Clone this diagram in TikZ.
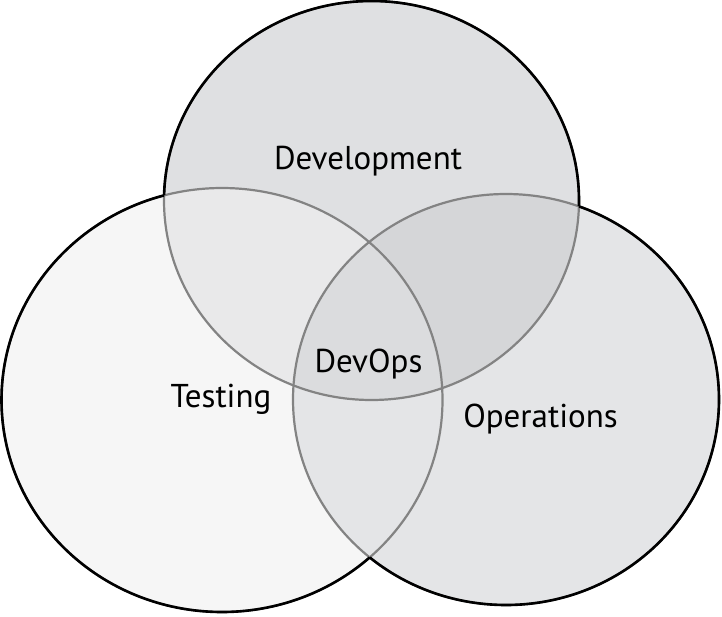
\documentclass[tikz,border=0pt]{standalone}
\usepackage{fontspec}
\setmainfont{PT Sans}
\usetikzlibrary{calc}

\definecolor{tstfill}{HTML}{F6F6F6}
\definecolor{devfill}{HTML}{DFE0E2}
\definecolor{opsfill}{HTML}{E4E5E7}
\definecolor{devtst}{HTML}{E9E9EA}
\definecolor{devops}{HTML}{D5D6D8}
\definecolor{tstops}{HTML}{E4E5E7}
\definecolor{allthree}{HTML}{DBDCDE}
\definecolor{inner}{HTML}{838383}

\tikzset{
  devr/.style={x radius=207.5pt, y radius=199.5pt},
  tstr/.style={x radius=220.5pt, y radius=212pt},
  opsr/.style={x radius=213pt, y radius=205.5pt},
  label/.style={font=\fontsize{33}{38}\selectfont, anchor=base, inner sep=0pt},
  rim/.style={line width=2.6pt, black},
  seam/.style={line width=2.2pt, inner}
}

\begin{document}
\begin{tikzpicture}[x=1pt, y=-1pt]
\useasboundingbox (0,0) rectangle (722,616);
\coordinate (dev) at (371.5,200.5);
\coordinate (tst) at (222,400);
\coordinate (ops) at (506,399.5);
% plain fills
\fill[devfill] (dev) ellipse [devr];
\fill[opsfill] (ops) ellipse [opsr];
\fill[tstfill] (tst) ellipse [tstr];
% overlaps
\begin{scope}
 \clip (dev) ellipse [devr];
 \fill[devtst] (tst) ellipse [tstr];
 \fill[devops] (ops) ellipse [opsr];
 \clip (tst) ellipse [tstr];
 \fill[allthree] (ops) ellipse [opsr];
\end{scope}
\begin{scope}[even odd rule]
 \clip (tst) ellipse [tstr];
 \clip (-10,-10) rectangle (740,630) (dev) ellipse [devr];
 \fill[tstops] (ops) ellipse [opsr];
\end{scope}
% inner seams
\draw[seam] (dev) ellipse [devr];
\draw[seam] (tst) ellipse [tstr];
\draw[seam] (ops) ellipse [opsr];
% outer rim
\begin{scope}[even odd rule]
 \clip (-10,-10) rectangle (740,630) (tst) ellipse [tstr];
 \clip (-10,-10) rectangle (740,630) (ops) ellipse [opsr];
 \draw[rim] (dev) ellipse [devr];
\end{scope}
\begin{scope}[even odd rule]
 \clip (-10,-10) rectangle (740,630) (dev) ellipse [devr];
 \clip (-10,-10) rectangle (740,630) (ops) ellipse [opsr];
 \draw[rim] (tst) ellipse [tstr];
\end{scope}
\begin{scope}[even odd rule]
 \clip (-10,-10) rectangle (740,630) (dev) ellipse [devr];
 \clip (-10,-10) rectangle (740,630) (tst) ellipse [tstr];
 \draw[rim] (ops) ellipse [opsr];
\end{scope}
% labels
\node[label] (development) at (368,169) {Development};
\node[label] (devopslabel) at (368.5,372.5) {DevOps};
\node[label] (testing) at (221,407.5) {Testing};
\node[label] (operations) at (540.5,427.5) {Operations};
\end{tikzpicture}
\end{document}
